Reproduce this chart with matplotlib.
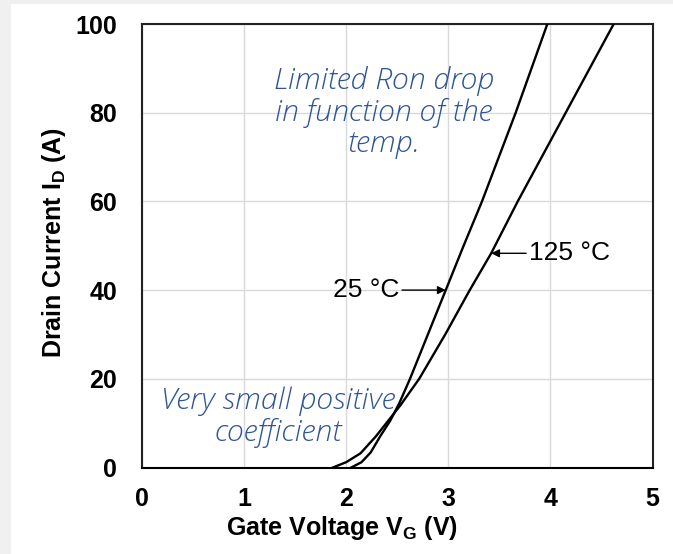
import numpy as np
import matplotlib
matplotlib.use("Agg")
import matplotlib.pyplot as plt
from matplotlib.patches import Rectangle

# Dati (Vg in V, Id in A)
vg_25 = [2.05, 2.15, 2.24, 2.34, 2.43, 2.52, 2.625, 2.80, 2.975, 3.15, 3.33, 3.66, 3.97]
id_25 = [0, 1.2, 3.4, 7.3, 10.5, 14.5, 20, 30, 40, 50, 60, 80, 100]

vg_125 = [1.87, 2.0, 2.14, 2.29, 2.41, 2.53, 2.715, 2.97, 3.21, 3.42, 3.68, 4.15, 4.62]
id_125 = [0, 1.2, 3.2, 7, 10.5, 14, 20, 30, 40, 48.3, 60, 80, 100]

x_ticks = [0, 1, 2, 3, 4, 5]
y_ticks = [0, 20, 40, 60, 80, 100]

label_25 = "25 °C"
label_125 = "125 °C"
note_top = "Limited Ron drop\nin function of the\ntemp."
note_bottom = "Very small positive\ncoefficient"

blue = "#2F5597"

fig = plt.figure(figsize=(6.73, 5.54), dpi=100)
fig.patch.set_facecolor("white")
# strisce grigie ai bordi
fig.patches.append(Rectangle((0, 0), 11 / 673, 1, transform=fig.transFigure,
                             facecolor="#f0f0f0", edgecolor="none", zorder=0))
fig.patches.append(Rectangle((0, 1 - 4 / 554), 1, 4 / 554, transform=fig.transFigure,
                             facecolor="#f0f0f0", edgecolor="none", zorder=0))

ax = fig.add_axes([142 / 673, (554 - 467.5) / 554, 510.5 / 673, 443.5 / 554])

ax.plot(vg_25, id_25, color="black", lw=1.7, solid_joinstyle="round", zorder=3)
ax.plot(vg_125, id_125, color="black", lw=1.7, solid_joinstyle="round", zorder=3)

ax.set_xlim(0, 5)
ax.set_ylim(0, 100)
ax.set_xticks(x_ticks)
ax.set_yticks(y_ticks)
ax.grid(True, color="#d9d9d9", lw=1.0)
ax.set_axisbelow(True)
ax.tick_params(length=0, labelsize=18, pad=14)
ax.tick_params(axis="y", pad=18)
for lab in ax.get_xticklabels() + ax.get_yticklabels():
    lab.set_fontfamily("Liberation Sans")
    lab.set_fontweight("bold")

for s in ax.spines.values():
    s.set_color("#222222")
    s.set_linewidth(1.5)
ax.spines["bottom"].set_color("black")

ax.set_xlabel(r"Gate Voltage V$_\mathregular{G}$ (V)", fontsize=18, fontweight="bold",
              fontfamily="Liberation Sans")
ax.set_ylabel(r"Drain Current I$_\mathregular{D}$ (A)", fontsize=18, fontweight="bold",
              fontfamily="Liberation Sans")
ax.xaxis.set_label_coords(0.392, -0.105)
ax.yaxis.set_label_coords(-0.145, 0.508)

# etichette delle curve con frecce
ax.annotate(label_25, xy=(2.975, 40), xytext=(2.52, 40),
            ha="right", va="center", fontsize=19, fontfamily="Liberation Sans",
            arrowprops=dict(arrowstyle="-|>", color="black", lw=1.0,
                            mutation_scale=12, shrinkA=0, shrinkB=0))
ax.annotate(label_125, xy=(3.42, 48.3), xytext=(3.79, 48.3),
            ha="left", va="center", fontsize=19, fontfamily="Liberation Sans",
            arrowprops=dict(arrowstyle="-|>", color="black", lw=1.0,
                            mutation_scale=12, shrinkA=0, shrinkB=0))

ax.text(2.37, 80, note_top, ha="center", va="center", color=blue, fontsize=21.8,
        fontstyle="italic", fontweight=300, fontfamily="Open Sans", linespacing=1.08)
ax.text(1.33, 11.3, note_bottom, ha="center", va="center", color=blue, fontsize=21.8,
        fontstyle="italic", fontweight=300, fontfamily="Open Sans", linespacing=1.08)

fig.savefig("out.png", dpi=100)
